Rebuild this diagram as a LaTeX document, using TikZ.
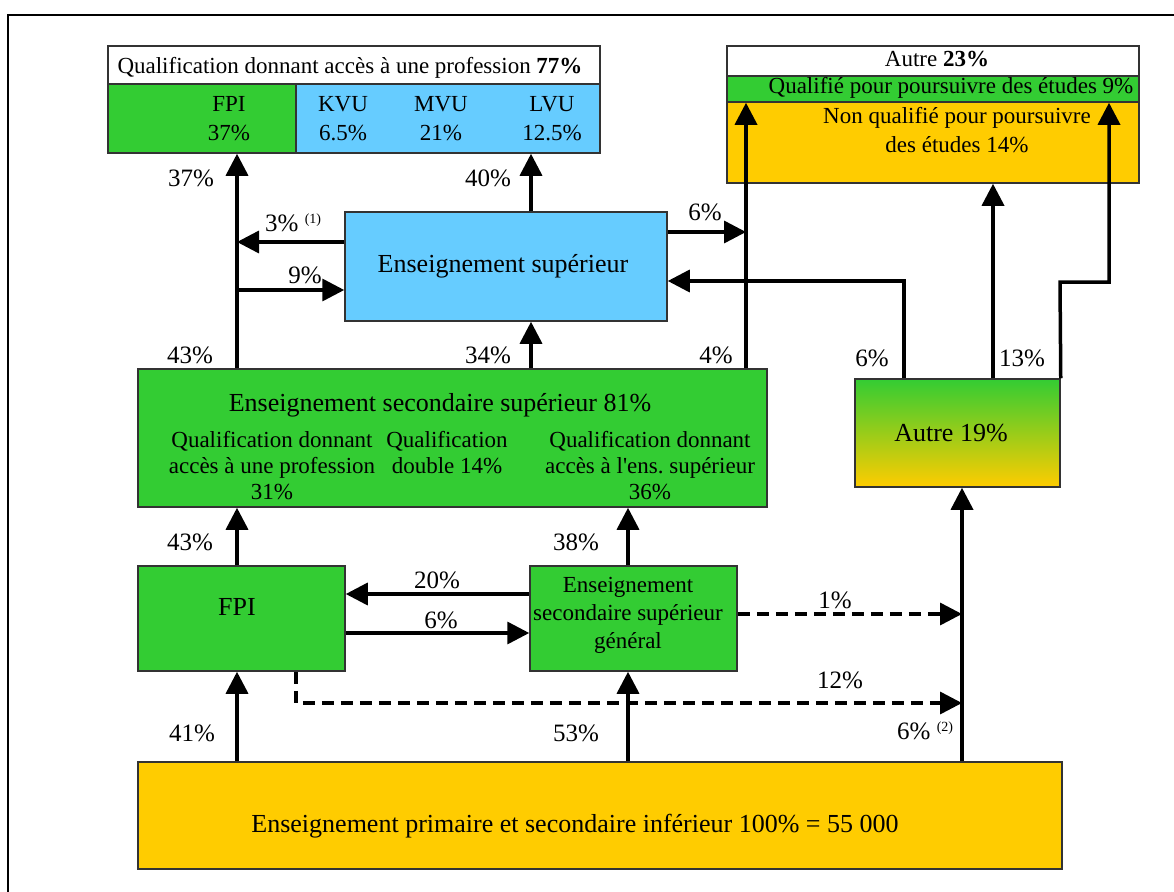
\documentclass[tikz,border=0pt]{standalone}
\usepackage{fontspec}
\setmainfont{Liberation Serif}
\usetikzlibrary{arrows.meta,calc}
\definecolor{gr}{HTML}{33CC33}
\definecolor{bl}{HTML}{66CCFF}
\definecolor{ye}{HTML}{FFCC00}
\newcommand\dfs{\fontsize{26}{27}\selectfont}
\newcommand\tfs{\fontsize{23}{29}\selectfont}
\newcommand\sfs{\fontsize{23}{26}\selectfont}
\newcommand\lfs{\fontsize{25}{27}\selectfont}
\newcommand\smallsup[1]{\raisebox{8pt}{\fontsize{14}{14}\selectfont(#1)}}
\begin{document}
\begin{tikzpicture}[x=1pt,y=-1pt,
  box/.style={draw=black!80, line width=1.5pt, inner sep=0pt, minimum width=#1},
  txt/.style={inner sep=0pt, align=center, font=\dfs},
  ttxt/.style={inner sep=0pt, align=center, font=\tfs},
  stxt/.style={inner sep=0pt, align=center, font=\sfs},
  lab/.style={inner sep=0pt, font=\lfs},
  arr/.style={line width=3.5pt, -{Triangle[length=22pt,width=22pt]}},
  dsh/.style={dash pattern=on 12pt off 7pt}
]
\useasboundingbox (0,0) rectangle (1174,891);
% frame
\draw[line width=1.8pt] (8,900) -- (8,15) -- (1180,15);

% boxes
\node[box=492pt, minimum height=38pt, fill=white] (tlh) at (354,65) {};
\node[box=188pt, minimum height=69pt, fill=gr] (tlf) at (202,118.5) {};
\node[box=304pt, minimum height=69pt, fill=bl] (tlb) at (448,118.5) {};
\node[box=412pt, minimum height=30pt, fill=white] (trh) at (933,61) {};
\node[box=412pt, minimum height=26pt, fill=gr] (trg) at (933,89) {};
\node[box=412pt, minimum height=81pt, fill=ye] (try) at (933,142.5) {};
\node[box=322pt, minimum height=109pt, fill=bl] (sup) at (506,266.5) {};
\node[box=629pt, minimum height=138pt, fill=gr] (big) at (452.5,438) {};
\node[box=205pt, minimum height=108pt, top color=gr, bottom color=ye] (aut) at (957.5,433) {};
\node[box=207pt, minimum height=105pt, fill=gr] (fpi) at (241.5,618.5) {};
\node[box=207pt, minimum height=105pt, fill=gr] (ess) at (633.5,618.5) {};
\node[box=924pt, minimum height=107pt, fill=ye] (bot) at (600,815.5) {};

% texts in boxes
\node[ttxt] (t1) at (350,68) {Qualification donnant accès à une profession \textbf{77\%}};
\node[ttxt] (t2) at (229,119) {FPI\\37\%};
\node[ttxt] (t3) at (343,119) {KVU\\6.5\%};
\node[ttxt] (t4) at (441,119) {MVU\\21\%};
\node[ttxt] (t5) at (552,119) {LVU\\12.5\%};
\node[ttxt] (t6) at (937,59) {Autre \textbf{23\%}};
\node[ttxt] (t7) at (951,88) {Qualifié pour poursuivre des études 9\%};
\node[ttxt] (t8) at (957,130) {Non qualifié pour poursuivre\\des études 14\%};
\node[txt] (t9) at (503,266) {Enseignement supérieur};
\node[txt] (t10) at (440,405) {Enseignement secondaire supérieur 81\%};
\node[stxt] (t11) at (272,466) {Qualification donnant\\accès à une profession\\31\%};
\node[stxt] (t12) at (447,453) {Qualification\\double 14\%};
\node[stxt] (t13) at (650,466) {Qualification donnant\\accès à l\textquotesingle ens.\ supérieur\\36\%};
\node[txt] (t14) at (951,433) {Autre 19\%};
\node[txt] (t15) at (237,607) {FPI};
\node[ttxt, font=\fontsize{23}{28}\selectfont] (t16) at (628,615) {Enseignement\\secondaire supérieur\\général};
\node[txt] (t17) at (575,826) {Enseignement primaire et secondaire inférieur 100\% = 55 000};

% coordinates for line positions
\coordinate (cA) at (237,0);
\coordinate (cB) at (531,0);
\coordinate (cC) at (628,0);
\coordinate (cD) at (746,0);
\coordinate (cE) at (904,0);
\coordinate (cF) at (962,0);
\coordinate (cG) at (993,0);
\coordinate (cI) at (1109,0);
\coordinate (cJ) at (296,0);
\coordinate (j1) at (962,614);
\coordinate (j2) at (962,703);
\coordinate (k1) at (746,232);
\coordinate (k2) at (237,242);
\coordinate (k3) at (237,290);
\coordinate (k4) at (904,281);
\coordinate (k5) at (1060,282);
\coordinate (k6) at (1109,282);

% connectors
\draw[arr] (bot.north -| cA) -- (fpi.south -| cA);
\draw[arr] (bot.north -| cC) -- (ess.south -| cC);
\draw[arr] (bot.north -| cF) -- (aut.south -| cF);
\draw[arr] (fpi.east |- 0,633) -- (ess.west |- 0,633);
\draw[arr] (ess.west |- 0,594) -- (fpi.east |- 0,594);
\draw[arr,dsh] (ess.east |- j1) -- (j1);
\draw[arr,dsh] (fpi.south -| cJ) |- (j2);
\draw[arr] (fpi.north -| cA) -- (big.south -| cA);
\draw[arr] (ess.north -| cC) -- (big.south -| cC);
\draw[arr] (big.north -| cA) -- (tlf.south -| cA);
\draw[arr] (k3) -- (sup.west |- k3);
\draw[arr] (sup.west |- k2) -- (k2);
\draw[arr] (big.north -| cB) -- (sup.south -| cB);
\draw[arr] (sup.north -| cB) -- (tlb.south -| cB);
\draw[arr] (big.north -| cD) -- (trg.south -| cD);
\draw[arr] (sup.east |- k1) -- (k1);
\draw[arr] (aut.north -| cE) |- (sup.east |- k4);
\draw[arr] (aut.north -| cG) -- (try.south -| cG);
\draw[arr] (aut.north east) -- (k5) -- (k6) -- (trg.south -| cI);

% labels
\node[lab] (l1) at (191,178) {37\%};
\node[lab] (l2) at (488,178) {40\%};
\node[lab, anchor=west] (l3) at (265,223) {3\%~\smallsup{1}};
\node[lab] (l4) at (305,275) {9\%};
\node[lab] (l5) at (705,212) {6\%};
\node[lab] (l6) at (190,355) {43\%};
\node[lab] (l7) at (488,355) {34\%};
\node[lab] (l8) at (716,355) {4\%};
\node[lab] (l9) at (872,358) {6\%};
\node[lab] (l10) at (1022,358) {13\%};
\node[lab] (l11) at (190,542) {43\%};
\node[lab] (l12) at (576,542) {38\%};
\node[lab] (l13) at (437,580) {20\%};
\node[lab] (l14) at (441,620) {6\%};
\node[lab] (l15) at (835,600) {1\%};
\node[lab] (l16) at (840,680) {12\%};
\node[lab] (l17) at (192,733) {41\%};
\node[lab] (l18) at (576,733) {53\%};
\node[lab, anchor=west] (l19) at (897,731) {6\%~\smallsup{2}};
\end{tikzpicture}
\end{document}
